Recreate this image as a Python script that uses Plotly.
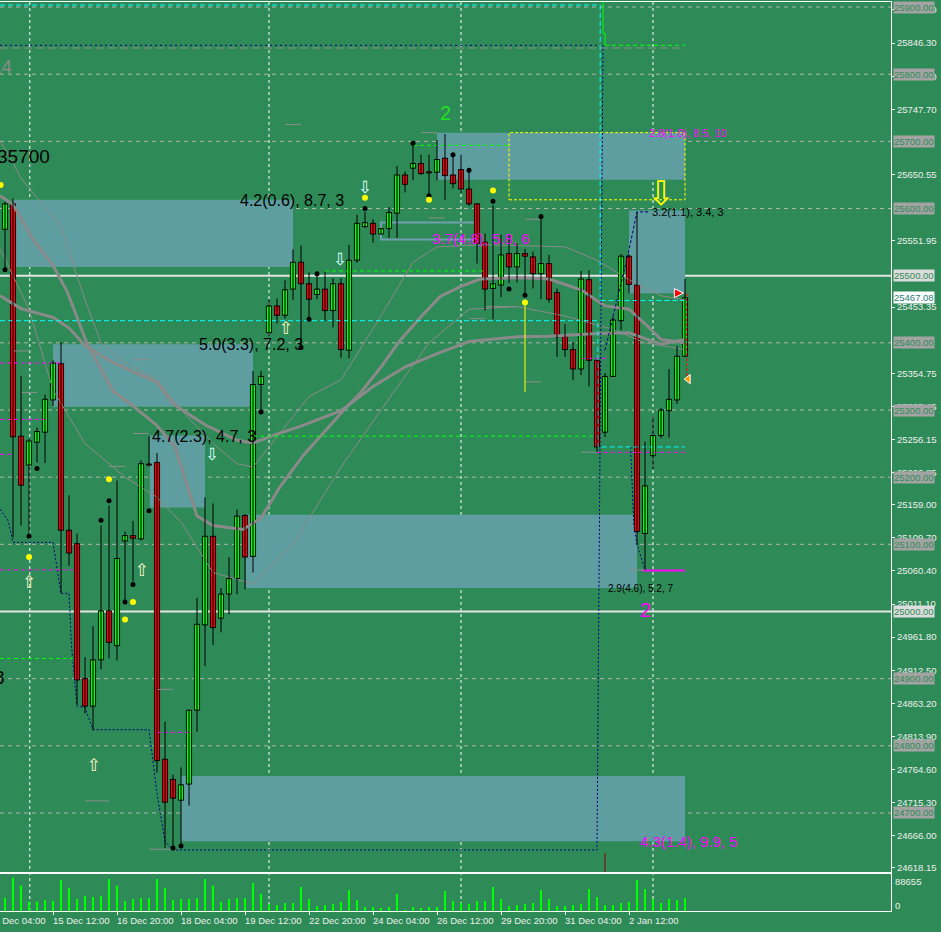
import plotly.graph_objects as go

# ---------------- data (H4 bars, index = bar number) ----------------
bar_index = list(range(86))
open_ = [25569, 25607, 25261, 25218, 25252, 25267, 25315, 25369, 25121, 25101,
         24900, 24859, 24928, 25001, 24949, 25105, 25113, 25108, 25219, 25222,
         24780, 24750, 24719, 24743, 24853, 24980, 25112, 24990, 25026, 25049,
         25143, 25082, 25338, 25415, 25455, 25441, 25480, 25520, 25488, 25472,
         25480, 25448, 25488, 25389, 25523, 25573, 25578, 25562, 25570, 25593,
         25650, 25660, 25667, 25654, 25654, 25675, 25650, 25658, 25629, 25607,
         25550, 25481, 25486, 25533, 25513, 25533, 25528, 25503, 25518, 25475,
         25410, 25390, 25361, 25494, 25374, 25267, 25350, 25433, 25529, 25486,
         25116, 25232, 25262, 25299, 25315, 25380]
high = [25610, 25615, 25351, 25257, 25274, 25323, 25374, 25401, 25173, 25116,
        24932, 24978, 25128, 25158, 25195, 25119, 25135, 25225, 25261, 25236,
        24836, 24757, 24768, 24853, 25020, 25170, 25161, 25035, 25081, 25152,
        25145, 25358, 25358, 25464, 25466, 25493, 25539, 25545, 25505, 25503,
        25506, 25496, 25496, 25546, 25591, 25595, 25584, 25571, 25602, 25663,
        25655, 25697, 25680, 25680, 25702, 25711, 25680, 25680, 25657, 25607,
        25563, 25605, 25561, 25561, 25548, 25540, 25536, 25588, 25531, 25481,
        25428, 25401, 25507, 25508, 25374, 25355, 25439, 25532, 25532, 25595,
        25253, 25291, 25303, 25361, 25395, 25495]
low = [25509, 25110, 25128, 25116, 25222, 25221, 25306, 25027, 25068, 24861,
       24848, 24823, 24914, 24930, 24927, 25016, 25045, 25106, 25216, 24760,
       24648, 24645, 24650, 24711, 24821, 24919, 24950, 24969, 24996, 25026,
       25033, 25058, 25297, 25410, 25429, 25436, 25464, 25393, 25435, 25465,
       25432, 25423, 25378, 25377, 25519, 25571, 25549, 25562, 25556, 25556,
       25624, 25642, 25650, 25619, 25642, 25613, 25630, 25623, 25604, 25518,
       25448, 25435, 25468, 25489, 25490, 25471, 25481, 25465, 25460, 25379,
       25379, 25345, 25352, 25335, 25238, 25260, 25350, 25419, 25474, 25099,
       25062, 25212, 25258, 25259, 25309, 25380]
close = [25607, 25260, 25188, 25254, 25268, 25316, 25370, 25121, 25087, 24898,
         24859, 24928, 25001, 24954, 25079, 25113, 25109, 25220, 25218, 24778,
         24716, 24722, 24742, 24853, 24981, 25112, 24976, 25026, 25049, 25142,
         25081, 25338, 25350, 25455, 25441, 25479, 25520, 25488, 25465, 25480,
         25448, 25488, 25390, 25523, 25578, 25579, 25562, 25570, 25594, 25650,
         25636, 25667, 25652, 25653, 25673, 25649, 25637, 25629, 25607, 25548,
         25480, 25488, 25531, 25513, 25533, 25529, 25503, 25518, 25465, 25409,
         25390, 25361, 25495, 25374, 25245, 25350, 25434, 25529, 25487, 25119,
         25187, 25262, 25300, 25316, 25380, 25467]
volume = [35462, 88655, 67378, 24823, 24823, 29256, 26597, 82449, 61172, 31916,
          39895, 37235, 39895, 85109, 67378, 26597, 31916, 34575, 34575, 85109,
          61172, 29256, 31916, 31916, 34575, 85109, 67378, 23937, 31916, 34575,
          34575, 74470, 45214, 18618, 15958, 21277, 21277, 63832, 31916, 13298,
          15958, 18618, 23937, 55853, 29256, 10639, 10639, 7979, 10639, 45214,
          2660, 10639, 7979, 10639, 10639, 53193, 26597, 21277, 18618, 26597,
          26597, 63832, 31916, 13298, 15958, 18618, 21277, 55853, 31916, 13298,
          13298, 15958, 18618, 58512, 37235, 15958, 15958, 21277, 23937, 82449,
          58512, 31916, 21277, 31916, 29256, 34575]
volume_max_label = 88655
current_price = 25467.08

date_tick_index = [-2, 6, 14, 22, 30, 38, 46, 54, 62, 70, 78]
date_tick_text = ["12 Dec 04:00", "15 Dec 12:00", "16 Dec 20:00", "18 Dec 04:00",
                  "19 Dec 12:00", "22 Dec 20:00", "24 Dec 04:00", "26 Dec 12:00",
                  "29 Dec 20:00", "31 Dec 04:00", "2 Jan 12:00"]

price_tick_vals = [25895.60, 25846.30, 25797.00, 25747.70, 25650.55, 25551.95,
                   25453.35, 25354.75, 25305.45, 25256.15, 25206.85, 25159.00,
                   25109.70, 25060.40, 25011.10, 24961.80, 24912.50, 24863.20,
                   24813.90, 24764.60, 24715.30, 24666.00, 24618.15]
round_levels = [25900, 25800, 25700, 25600, 25400, 25300, 25200, 25100, 24900, 24800, 24700]
major_levels = [25500, 25000]
week_sep_index = [3.1, 33, 57, 81]

# moving averages
ma_fast_idx = [-0.6, 1, 3.5, 6, 7.75, 10.25, 12, 13.5, 16, 19, 21.25, 24, 26, 29.75, 32, 34.4,
               37.25, 39.4, 42.5, 44.4, 47, 49.4, 52, 54.4, 57, 59.4, 64.4, 68, 72, 75, 78, 80.4, 82, 85]
ma_fast_val = [25619, 25606, 25554, 25515, 25477, 25399, 25361, 25328, 25306, 25277, 25245, 25142,
               25128, 25122, 25139, 25186, 25232, 25261, 25302, 25325, 25364, 25404, 25439, 25469,
               25484, 25495, 25497, 25495, 25479, 25455, 25450, 25424, 25405, 25400]
ma_slow_idx = [-0.6, 2, 6, 8, 10, 13, 16, 19, 21, 25, 29, 31, 34, 37, 42, 46, 50, 54, 58, 64,
               68, 74, 78, 80, 82, 85]
ma_slow_val = [25470, 25451, 25438, 25422, 25396, 25374, 25357, 25341, 25309, 25278, 25255, 25251,
               25264, 25276, 25299, 25335, 25364, 25384, 25402, 25409, 25410, 25414, 25415, 25407,
               25398, 25405]
band_up_idx = [-0.6, 1, 2, 7, 10, 12, 15, 19, 22, 26, 29, 31, 34, 38, 42, 47, 51, 54, 60, 70, 74, 78, 82, 85]
band_up_val = [25700, 25668, 25645, 25573, 25464, 25400, 25370, 25345, 25300, 25250, 25220, 25215,
               25260, 25320, 25345, 25440, 25520, 25543, 25546, 25543, 25523, 25494, 25470, 25464]
band_lo_idx = [-0.6, 3, 6, 10, 15, 19, 22, 26, 31, 36, 42, 47, 53, 58, 64, 70, 76, 80, 85]
band_lo_val = [25540, 25450, 25330, 25250, 25200, 25170, 25133, 25058, 25041, 25100, 25215, 25300,
               25400, 25450, 25454, 25440, 25420, 25400, 25390]

# zones: (start bar, end bar, top, bottom)
zones = [(1, 36, 25613, 25513), (6, 31, 25398, 25305), (18.1, 25, 25262, 25155),
         (30.1, 79, 25144, 25035), (22, 85, 24755, 24658), (54, 85, 25713, 25643),
         (78, 85, 25597, 25474)]
outline_zone = (47, 59, 25579, 25554)
yellow_zone = (63, 85, 25713, 25613)

# stepped / indicator lines
cyan_line1_idx = [-0.625, 74.4, 74.4, 85]
cyan_line1_val = [25903, 25903, 25463, 25463]
cyan_line2_idx = [-0.625, 74.1, 74.1, 85]
cyan_line2_val = [25433, 25433, 25245, 25245]
navy_step_idx = [-0.6, 0.4, 1, 6, 7, 8, 8.3, 9, 10, 11, 18, 19, 20, 21, 74, 74.75]
navy_step_val = [25152, 25135, 25103, 25103, 25027, 25027, 24951, 24859, 24857, 24824, 24824,
                 24729, 24658, 24645, 24645, 25843]
navy_zig_idx = [75, 76, 78, 79, 80.6]
navy_zig_val = [25389, 25439, 25538, 25595, 25595]
navy_drop_idx = [78.2, 78.6, 79.0, 80.0]
navy_drop_val = [25245, 25130, 25100, 25062]
navy_top_level = 25843
grey_top_level = 25839
lime_top_idx = [74.75, 74.75, 75, 75]
lime_top_val = [25907, 25861, 25861, 25843]

# horizontal dashed segments: (start bar, end bar, price)
lime_dashed = [(31, 74, 25261), (-0.625, 8.5, 24930), (51, 63, 25694), (40, 60, 25507), (75, 85, 25843)]
magenta_dashed = [(-0.625, 7, 25370), (-0.625, 5, 25286), (-0.625, 1, 25234), (-0.625, 8.5, 25062),
                  (19, 23, 24820), (74, 85, 25237), (72, 75.5, 25377)]
magenta_solid = [(79.6, 85, 25061)]
grey_marks = [(35, 37, 25725), (1, 3.1, 25388), (2, 4, 25326), (16, 18, 25265), (16, 18, 25375),
              (13, 15, 25216), (10, 13, 24718), (18, 21, 24646), (19, 21, 24884), (58, 60, 25436),
              (60, 64, 25454), (53, 55, 25586), (65, 67, 25584), (65, 67, 25342), (78, 80, 25062),
              (72, 74, 25237), (52, 54, 25713)]

black_dot_idx = [0, 3, 4, 12, 13, 15, 16, 18, 21, 22, 32, 37, 38, 39, 45, 51, 53, 56, 58, 61, 63, 65, 67]
black_dot_val = [25509, 25112, 25213, 25136, 25165, 25014, 25040, 25150, 24648, 24651, 25297, 25393,
                 25435, 25503, 25600, 25697, 25619, 25680, 25657, 25611, 25480, 25471, 25588]
yellow_dot_idx = [-0.55, 3, 13, 15, 16, 45, 53, 61, 65]
yellow_dot_val = [25635, 25081, 25197, 24988, 25014, 25616, 25613, 25627, 25460]
up_arrow_idx = [3, 11.1, 17.1, 35.1]
up_arrow_val = [25041, 24769, 25059, 25419]
down_arrow_idx = [25.9, 41.9, 45]
down_arrow_val = [25232, 25522, 25630]

labels = [  # (bar, price, text, color, size, anchor)
    (29.1, 25612, "4.2(0.6), 8.7, 3", "black", 16, "left"),
    (24.0, 25397, "5.0(3.3), 7.2, 3", "black", 16, "left"),
    (18.1, 25261, "4.7(2.3), 4.7, 3", "black", 16, "left"),
    (53.1, 25555, "3.7(4.8), 5.8, 6", "#ff00ff", 15, "left"),
    (80.25, 25712, "2.8(1.0), 8.5, 10", "#ff00ff", 11, "left"),
    (80.6, 25595, "3.2(1.1), 3.4, 3", "black", 11, "left"),
    (75.1, 25034, "2.9(4.6), 5.2, 7", "black", 10, "left"),
    (79.1, 24657, "4.3(1.4), 9.9, 5", "#ff00ff", 15, "left"),
    (5.9, 25677, "35700", "black", 19, "right"),
    (1.25, 25811, "14", "#8c8c8c", 19, "right"),
    (0.3, 24902, "8", "black", 19, "right"),
]
wave_labels = [(55, 25742, "2", "#22e022"), (80, 25002, "2", "#ff00ff")]

# ---------------- figure ----------------
BG = "#2E8B57"
fig = go.Figure()

# moving averages / bands
for xs, ys, w in [(band_up_idx, band_up_val, 1), (band_lo_idx, band_lo_val, 1),
                  (ma_slow_idx, ma_slow_val, 3), (ma_fast_idx, ma_fast_val, 3)]:
    fig.add_trace(go.Scatter(x=xs, y=ys, mode="lines", line=dict(color="#8a8a8a", width=w),
                             hoverinfo="skip"))


def ind(xs, ys, color, width=1, dash="solid"):
    fig.add_trace(go.Scatter(x=xs, y=ys, mode="lines",
                             line=dict(color=color, width=width, dash=dash),
                             hoverinfo="skip"))


ind(cyan_line1_idx, cyan_line1_val, "#00ffff", 1, "5px,3px")
ind(cyan_line2_idx, cyan_line2_val, "#00ffff", 1, "5px,3px")
ind([-0.625, 85], [grey_top_level, grey_top_level], "#8c8c8c", 1, "8px,4px")
ind([-0.625, 74.4], [navy_top_level, navy_top_level], "#000080", 1, "2px,3px")
ind(navy_step_idx, navy_step_val, "#000080", 1, "2px,2px")
ind(navy_zig_idx, navy_zig_val, "#000080", 1, "3px,2px")
ind(navy_drop_idx, navy_drop_val, "#000080", 1, "2px,2px")
ind(lime_top_idx, lime_top_val, "#00ff00", 1)
for a, b, p in lime_dashed:
    ind([a, b], [p, p], "#00ff00", 1, "4px,3px")
for a, b, p in magenta_dashed:
    ind([a, b], [p, p], "#ff00ff", 1, "4px,3px")
for a, b, p in magenta_solid:
    ind([a, b], [p, p], "#ff00ff", 2)
for a, b, p in grey_marks:
    ind([a, b], [p, p], "#8c8c8c", 1)
ind([65, 65], [25460, 25327], "#ffff00", 1)
ind([85.2, 85.2], [25474, 25346], "#ff0000", 1, "3px,2px")
ind([75, 75], [24640, 24600], "#8b0000", 1)

# candles: wicks then bodies
wx, wy = [], []
for k, h, l in zip(bar_index, high, low):
    wx += [k, k, None]
    wy += [l, h, None]
fig.add_trace(go.Scatter(x=wx, y=wy, mode="lines", line=dict(color="black", width=1),
                         hoverinfo="skip"))
body_base = [min(o, c) for o, c in zip(open_, close)]
body_len = [max(abs(c - o), 1.6) for o, c in zip(open_, close)]
body_col = ["#00ff00" if c >= o else "#ff0000" for o, c in zip(open_, close)]
fig.add_trace(go.Bar(x=bar_index, y=body_len, base=body_base, width=0.64,
                     marker=dict(color=body_col, line=dict(color="black", width=1)),
                     hoverinfo="skip"))

# dots
fig.add_trace(go.Scatter(x=black_dot_idx, y=black_dot_val, mode="markers",
                         marker=dict(color="black", size=5), hoverinfo="skip"))
fig.add_trace(go.Scatter(x=yellow_dot_idx, y=yellow_dot_val, mode="markers",
                         marker=dict(color="#ffff00", size=6), hoverinfo="skip"))
# arrows
fig.add_trace(go.Scatter(x=up_arrow_idx, y=up_arrow_val, mode="text", text=["⇧"] * len(up_arrow_idx),
                         textfont=dict(family="DejaVu Sans", size=17, color="#fff8d0"),
                         hoverinfo="skip"))
fig.add_trace(go.Scatter(x=down_arrow_idx, y=down_arrow_val, mode="text",
                         text=["⇩"] * len(down_arrow_idx),
                         textfont=dict(family="DejaVu Sans", size=17, color="#d8ffff"),
                         hoverinfo="skip"))
fig.add_trace(go.Scatter(x=[82], y=[25618], mode="text", text=["⇩"],
                         textfont=dict(family="DejaVu Sans", size=34, color="#ffff00"),
                         hoverinfo="skip"))
fig.add_trace(go.Scatter(x=[84.8], y=[25474], mode="markers",
                         marker=dict(symbol="arrow-right", size=9, color="#ff0000",
                                     line=dict(color="white", width=1)), hoverinfo="skip"))
fig.add_trace(go.Scatter(x=[85.4], y=[25346], mode="markers",
                         marker=dict(symbol="triangle-left", size=8, color="#ff9900",
                                     line=dict(color="white", width=1)), hoverinfo="skip"))

# volume
fig.add_trace(go.Bar(x=bar_index, y=volume, width=0.13, xaxis="x2", yaxis="y2",
                     marker=dict(color="#00ff00", line=dict(width=0)), hoverinfo="skip"))

# ---------------- shapes ----------------
shapes = []
for a, b, top, bot in zones:
    shapes.append(dict(type="rect", xref="x", yref="y", x0=a, x1=b, y0=bot, y1=top,
                       fillcolor="#5F9EA0", line=dict(width=0), layer="below"))
a, b, top, bot = outline_zone
shapes.append(dict(type="rect", xref="x", yref="y", x0=a, x1=b, y0=bot, y1=top,
                   fillcolor="rgba(0,0,0,0)", line=dict(color="#6f9fb0", width=2), layer="below"))
a, b, top, bot = yellow_zone
shapes.append(dict(type="rect", xref="x", yref="y", x0=a, x1=b, y0=bot, y1=top,
                   fillcolor="rgba(0,0,0,0)", line=dict(color="#ffff00", width=1, dash="3px,2px"),
                   layer="below"))
for lv in round_levels:
    shapes.append(dict(type="line", xref="paper", yref="y", x0=0, x1=1, y0=lv, y1=lv,
                       line=dict(color="#b4b4b4", width=1, dash="4px,4px"), layer="below"))
for lv in major_levels:
    shapes.append(dict(type="line", xref="paper", yref="y", x0=0, x1=1, y0=lv, y1=lv,
                       line=dict(color="#e4e4e4", width=2), layer="below"))
for k in week_sep_index:
    shapes.append(dict(type="line", xref="x", yref="paper", x0=k, x1=k, y0=0, y1=1,
                       line=dict(color="white", width=1, dash="3px,3px"), layer="below"))

# ---------------- annotations ----------------
ann = []
FONT = "Liberation Sans"
xr = [-0.625, 110.75]
for k, p, t, c, s, anc in labels:
    ann.append(dict(x=k, y=p, xref="x", yref="y", text=t, showarrow=False, xanchor=anc,
                    yanchor="middle", font=dict(family=FONT, size=s, color=c)))
for k, p, t, c in wave_labels:
    ann.append(dict(x=k, y=p, xref="x", yref="y", text=t, showarrow=False,
                    font=dict(family=FONT, size=20, color=c)))
for lv in round_levels:
    ann.append(dict(x=1, y=lv, xref="paper", yref="y", text=f"{lv:.2f}", showarrow=False,
                    xanchor="left", yanchor="middle", xshift=2, bgcolor="#a3a3a3", borderpad=0,
                    font=dict(family=FONT, size=9.5, color="#2E8B57")))
for lv in major_levels:
    ann.append(dict(x=1, y=lv, xref="paper", yref="y", text=f"{lv:.2f}", showarrow=False,
                    xanchor="left", yanchor="middle", xshift=2, bgcolor="#dcdcdc", borderpad=0,
                    font=dict(family=FONT, size=9.5, color="#2E8B57")))
ann.append(dict(x=1, y=current_price, xref="paper", yref="y", text=f"{current_price:.2f}",
                showarrow=False, xanchor="left", yanchor="middle", xshift=2, bgcolor="white",
                borderpad=0, font=dict(family=FONT, size=9.5, color="#2a7a7a")))
ann.append(dict(x=1, y=0.79, xref="paper", yref="y2 domain", text=str(volume_max_label),
                showarrow=False, xanchor="left", yanchor="middle", xshift=2,
                font=dict(family=FONT, size=9.5, color="#eeeeee")))
ann.append(dict(x=1, y=0.16, xref="paper", yref="y2 domain", text="0",
                showarrow=False, xanchor="left", yanchor="middle", xshift=2,
                font=dict(family=FONT, size=9.5, color="#eeeeee")))
for k, t in zip(date_tick_index, date_tick_text):
    # paper position of the bar index (so labels left of the range still show)
    px = (k - xr[0]) / (xr[1] - xr[0])
    ann.append(dict(x=px, y=-0.0105, xref="paper", yref="paper", text=t, showarrow=False,
                    xanchor="left", yanchor="middle", xshift=-2,
                    font=dict(family=FONT, size=9.5, color="#eeeeee")))

fig.update_layout(
    width=941, height=932,
    margin=dict(l=0, r=50, t=2, b=21),
    paper_bgcolor=BG, plot_bgcolor=BG,
    showlegend=False, barmode="overlay",
    xaxis=dict(domain=[0, 1], range=xr, showgrid=False, zeroline=False, showticklabels=False,
               showline=True, linecolor="white", linewidth=1, mirror=True, anchor="y"),
    yaxis=dict(domain=[0.0429, 1], range=[24612.1, 25907.5], side="right", showgrid=False,
               zeroline=False, showline=True, linecolor="white", linewidth=1,
               ticks="outside", ticklen=3, tickcolor="white",
               tickvals=price_tick_vals, ticktext=[f"{v:.2f}" for v in price_tick_vals],
               tickfont=dict(family=FONT, size=9.5, color="#eeeeee"), anchor="x"),
    xaxis2=dict(domain=[0, 1], range=xr, showgrid=False, zeroline=False, anchor="y2",
                showline=True, linecolor="white", linewidth=1, mirror=True,
                ticks="outside", ticklen=3, tickcolor="white", tickvals=date_tick_index,
                showticklabels=False),
    yaxis2=dict(domain=[0, 0.0407], range=[0, 98500], side="right", showgrid=False,
                zeroline=False, showline=True, linecolor="white", linewidth=1,
                showticklabels=False, ticks="", anchor="x2"),
    shapes=shapes, annotations=ann,
)

fig.write_html("out.html", config={"displayModeBar": False},
               post_script="document.body.style.margin='0';document.body.style.overflow='hidden';")
